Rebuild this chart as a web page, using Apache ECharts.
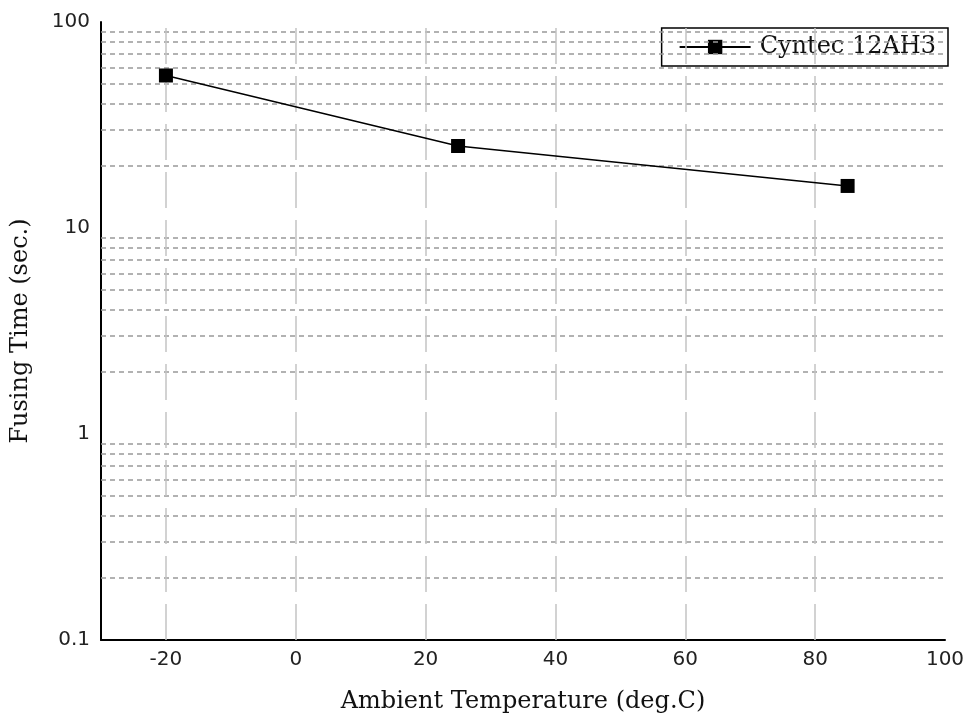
<!DOCTYPE html>
<html>
<head>
<meta charset="utf-8">
<script src="https://cdn.jsdelivr.net/npm/echarts@6/dist/echarts.min.js"></script>
<style>
  html, body { margin: 0; padding: 0; background: #fff; }
  #chart { width: 964px; height: 720px; }
</style>
</head>
<body>
<div id="chart"></div>
<script>
// data
const temps = [-20, 25, 85]
const fusingTimes = [55, 25, 16]
const seriesName = 'Cyntec 12AH3'

// axis ticks / grid lines
const xLabelValues = [-20, 0, 20, 40, 60, 80, 100]
const xGridValues = [-20, 0, 20, 40, 60, 80]
const yGridValues = [
  0.2, 0.3, 0.4, 0.5, 0.6, 0.7, 0.8, 0.9,
  2, 3, 4, 5, 6, 7, 8, 9,
  20, 30, 40, 50, 60, 70, 80, 90
]

const serif = '"DejaVu Serif", "Liberation Serif", serif'
const sans = '"DejaVu Sans", "Liberation Sans", sans-serif'

const chart = echarts.init(document.getElementById('chart'))

const gridLines = [
  ...yGridValues.map(v => ({
    yAxis: v,
    lineStyle: { color: '#999', width: 1.5, type: [5, 4] }
  })),
  ...xGridValues.map(v => ({
    xAxis: v,
    lineStyle: { color: '#c4c4c4', width: 1.5, type: [36, 12] }
  }))
]

chart.setOption({
  animation: false,
  grid: { left: 101, right: 19, top: 22, bottom: 80, outerBoundsMode: 'none' },
  legend: {
    data: [seriesName],
    top: 28,
    right: 16,
    backgroundColor: '#fff',
    borderColor: '#000',
    borderWidth: 1.5,
    borderRadius: 0,
    padding: [7, 12, 7, 17],
    itemWidth: 71,
    itemHeight: 18,
    textStyle: { fontFamily: serif, fontSize: 24, color: '#111', padding: [0, 0, 0, 4] }
  },
  xAxis: {
    type: 'value',
    min: -30,
    max: 100,
    name: 'Ambient Temperature (deg.C)',
    nameLocation: 'middle',
    nameGap: 50,
    nameTextStyle: { fontFamily: serif, fontSize: 24, color: '#111' },
    axisLine: { show: true, onZero: false, lineStyle: { color: '#000', width: 2 } },
    axisTick: { show: false },
    splitLine: { show: false },
    axisLabel: {
      customValues: xLabelValues,
      margin: 10,
      fontFamily: sans,
      fontSize: 20,
      color: '#222'
    }
  },
  yAxis: {
    type: 'log',
    logBase: 10,
    min: 0.1,
    max: 100,
    name: 'Fusing Time (sec.)',
    nameLocation: 'middle',
    nameGap: 68,
    nameRotate: 90,
    nameTextStyle: { fontFamily: serif, fontSize: 24, color: '#111' },
    axisLine: { show: true, onZero: false, lineStyle: { color: '#000', width: 2 } },
    axisTick: { show: false },
    splitLine: { show: false },
    axisLabel: {
      margin: 11,
      fontFamily: sans,
      fontSize: 20,
      color: '#222',
      formatter: v => String(+(+v).toPrecision(3))
    }
  },
  series: [
    {
      name: 'grid',
      type: 'line',
      data: [],
      z: 1,
      silent: true,
      markLine: {
        silent: true,
        symbol: 'none',
        label: { show: false },
        data: gridLines
      }
    },
    {
      name: seriesName,
      type: 'line',
      z: 5,
      data: temps.map((t, i) => [t, fusingTimes[i]]),
      symbol: 'rect',
      symbolSize: 14,
      lineStyle: { color: '#000', width: 1.5 },
      itemStyle: { color: '#000' }
    }
  ]
})
</script>
</body>
</html>
